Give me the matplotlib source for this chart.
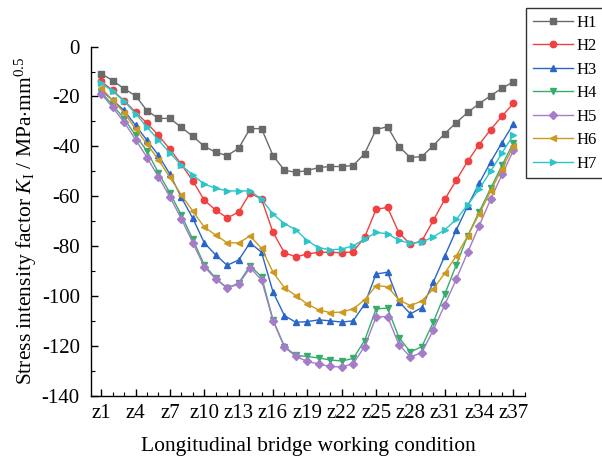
import matplotlib
matplotlib.use("Agg")
import matplotlib.pyplot as plt
from matplotlib.ticker import MultipleLocator, FixedLocator

plt.rcParams['font.family'] = ['Liberation Serif', 'DejaVu Serif']
plt.rcParams['mathtext.fontset'] = 'custom'
plt.rcParams['mathtext.rm'] = 'Liberation Serif'
plt.rcParams['mathtext.it'] = 'Liberation Serif:italic'
plt.rcParams['axes.unicode_minus'] = False

# working conditions z1..z37
conditions = [f"z{i}" for i in range(1, 38)]

# valores
h1 = [-10.9, -13.6, -16.9, -19.7, -25.7, -28.8, -28.8, -32.4, -36.0, -40.0,
      -42.4, -43.7, -40.8, -32.9, -32.9, -43.7, -49.6, -50.4, -49.7, -48.5,
      -48.1, -48.1, -47.7, -42.9, -33.3, -32.1, -40.1, -44.5, -44.1, -39.7,
      -34.9, -30.5, -26.4, -22.9, -19.7, -16.7, -14.1]
h2 = [-13.9, -17.6, -21.7, -26.3, -30.7, -35.6, -41.2, -47.2, -53.9, -61.6,
      -65.6, -68.7, -66.4, -58.7, -61.2, -74.5, -82.7, -84.3, -83.2, -82.5,
      -82.5, -82.7, -82.3, -76.5, -65.3, -64.5, -74.7, -79.3, -77.9, -69.7,
      -61.3, -53.6, -46.0, -39.3, -33.3, -27.9, -22.7]
h3 = [-17.6, -21.5, -25.6, -31.6, -37.6, -43.6, -51.2, -60.5, -68.9, -78.7,
      -83.6, -87.7, -85.6, -78.7, -82.5, -98.4, -107.9, -110.6, -110.3, -109.6,
      -110.0, -110.5, -110.0, -103.3, -91.2, -90.5, -102.3, -107.2, -104.7, -94.4,
      -84.0, -73.6, -63.9, -54.9, -46.3, -38.5, -30.9]
h4 = [-18.3, -23.5, -28.9, -35.6, -41.9, -50.7, -58.7, -67.6, -77.3, -87.6,
      -92.9, -96.9, -94.9, -87.9, -92.3, -109.6, -120.3, -123.9, -124.3, -124.9,
      -125.7, -126.1, -125.1, -117.9, -105.2, -104.9, -116.7, -122.5, -120.3, -110.5,
      -99.3, -87.6, -75.9, -66.3, -56.9, -47.6, -38.5]
h5 = [-18.9, -24.4, -30.3, -37.3, -44.5, -52.3, -60.3, -69.1, -78.7, -88.3,
      -93.2, -96.9, -95.2, -88.7, -93.6, -109.9, -120.5, -124.3, -126.3, -127.3,
      -128.3, -128.5, -127.2, -120.3, -108.5, -108.3, -119.6, -124.5, -122.7, -113.6,
      -103.6, -93.3, -82.5, -71.9, -61.3, -51.3, -41.6]
h6 = [-16.5, -21.6, -26.5, -33.0, -39.1, -45.4, -52.5, -59.5, -66.0, -72.4,
      -75.6, -78.7, -78.7, -76.0, -80.9, -90.5, -96.7, -99.9, -103.3, -105.6,
      -106.7, -106.5, -105.2, -101.6, -95.9, -96.3, -101.6, -103.9, -102.0, -97.2,
      -90.9, -84.0, -76.0, -67.2, -58.0, -48.9, -40.0]
h7 = [-14.7, -17.9, -21.9, -26.9, -32.3, -37.5, -42.7, -47.6, -51.5, -55.2,
      -56.8, -57.9, -57.9, -57.9, -61.2, -67.2, -71.0, -73.5, -77.9, -80.7,
      -81.5, -81.2, -79.9, -77.2, -74.5, -75.1, -77.7, -78.9, -78.4, -76.3,
      -73.5, -69.3, -63.5, -57.2, -50.0, -42.7, -35.3]

series = [
    ("H1", h1, "#6a6a6a", "s", 4.2),
    ("H2", h2, "#F14040", "o", 4.6),
    ("H3", h3, "#2a66c8", "^", 5.0),
    ("H4", h4, "#37AD6B", "v", 5.0),
    ("H5", h5, "#A47CC8", "D", 4.0),
    ("H6", h6, "#CC9922", "<", 5.0),
    ("H7", h7, "#2EC4C8", ">", 5.0),
]

fig = plt.figure(figsize=(6.02, 4.66), dpi=100)
ax = fig.add_axes([0.151, 0.151, 0.721, 0.749])

x = list(range(1, len(conditions) + 1))
for nome, vals, cor, mk, ms in series:
    ax.plot(x, vals, color=cor, marker=mk, markersize=ms, linewidth=1.0, label=nome)

ax.set_xlim(0.1, 38.0)
ax.set_ylim(-140, 0)
ax.xaxis.set_major_locator(FixedLocator(x[::3]))
ax.set_xticklabels(conditions[::3])
ax.xaxis.set_minor_locator(MultipleLocator(1))
ax.yaxis.set_major_locator(MultipleLocator(20))
ax.yaxis.set_minor_locator(MultipleLocator(10))

for lado in ("top", "right"):
    ax.spines[lado].set_visible(False)
for lado in ("left", "bottom"):
    ax.spines[lado].set_linewidth(1.0)

ax.tick_params(which="major", direction="in", length=5, width=1.0, labelsize=15)
ax.tick_params(which="minor", direction="in", length=3, width=0.8)
ax.tick_params(axis="x", pad=6)
ax.tick_params(axis="y", pad=8)

ax.set_xlabel("Longitudinal bridge working condition", fontsize=15.5, labelpad=10)
ax.set_ylabel(r"Stress intensity factor $K_{\mathrm{I}}$ / MPa$\cdot$mm$^{0.5}$", fontsize=15.5, labelpad=2)

leg = fig.legend(loc="upper left", bbox_to_anchor=(0.874, 0.983), fontsize=12,
                 frameon=True, fancybox=False, edgecolor="black", handlelength=2.4,
                 borderpad=0.4, labelspacing=0.45, handletextpad=0.25, borderaxespad=0)
leg.get_frame().set_linewidth(1.0)

fig.savefig("out.png", dpi=100)
